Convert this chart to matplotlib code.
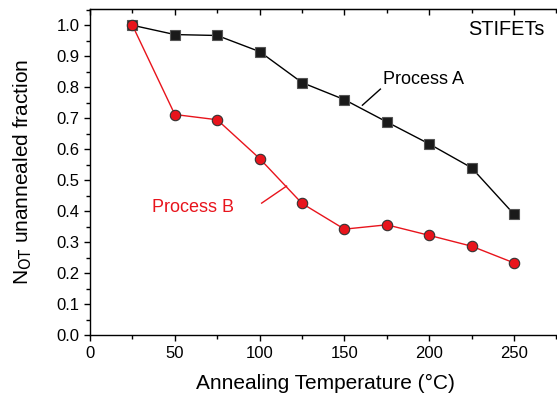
import numpy as np
import matplotlib.pyplot as plt
from matplotlib.ticker import MultipleLocator

plt.rcParams['font.family'] = ['Liberation Sans', 'DejaVu Sans']

# annealing temperatures (deg C)
temps = [25, 50, 75, 100, 125, 150, 175, 200, 225, 250]
proc_a = [1.0, 0.970, 0.967, 0.915, 0.815, 0.760, 0.688, 0.617, 0.540, 0.390]
proc_b = [1.0, 0.712, 0.695, 0.570, 0.425, 0.342, 0.356, 0.322, 0.287, 0.233]

fig = plt.figure(figsize=(5.57, 3.98), dpi=100)
ax = fig.add_axes([0.1616, 0.158, 0.845, 0.819])

ax.plot(temps, proc_a, color='black', lw=1, marker='s', ms=6.5,
        mfc='#1a1a1a', mec='#555555', mew=0.8)
ax.plot(temps, proc_b, color='#e8141c', lw=1, marker='o', ms=7.5,
        mfc='#e8141c', mec='#333333', mew=0.8, zorder=3)

# labels with leader lines
ax.text(173, 0.826, 'Process A', fontsize=13, va='center', ha='left')
ax.plot([160.6, 171.2], [0.742, 0.794], color='black', lw=1)
ax.text(36.5, 0.413, 'Process B', fontsize=13, va='center', ha='left', color='#e8141c')
ax.plot([101.2, 115.9], [0.426, 0.481], color='#e8141c', lw=1)
ax.text(268, 0.987, 'STIFETs', fontsize=14.3, va='center', ha='right')

ax.set_xlim(0, 277.5)
ax.set_ylim(0, 1.052)
ax.xaxis.set_major_locator(MultipleLocator(50))
ax.xaxis.set_minor_locator(MultipleLocator(25))
ax.yaxis.set_major_locator(MultipleLocator(0.1))
ax.yaxis.set_minor_locator(MultipleLocator(0.05))
ax.yaxis.set_major_formatter(plt.FormatStrFormatter('%.1f'))
ax.tick_params(which='both', direction='out', labelsize=12, width=1)
ax.tick_params(which='major', length=4)
ax.tick_params(which='minor', length=3)
for s in ax.spines.values():
    s.set_linewidth(1)

# inward ticks on the top spine
top = ax.secondary_xaxis('top')
top.xaxis.set_major_locator(MultipleLocator(50))
top.xaxis.set_minor_locator(MultipleLocator(25))
top.tick_params(which='both', direction='in', labeltop=False, width=1)
top.tick_params(which='major', length=4)
top.tick_params(which='minor', length=3)

ax.set_xlabel('Annealing Temperature (°C)', fontsize=15, labelpad=10)
ax.set_ylabel(r'N$_{\mathrm{OT}}$ unannealed fraction', fontsize=15, labelpad=16)

fig.savefig('out.png', dpi=100)
